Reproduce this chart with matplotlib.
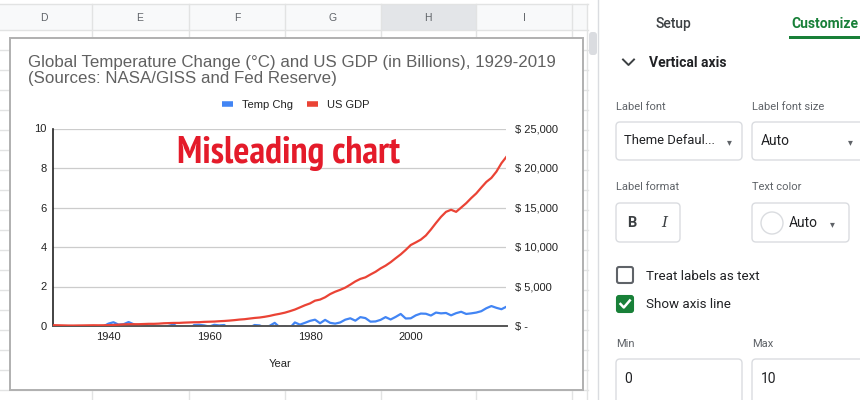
import matplotlib
matplotlib.use("Agg")
import matplotlib.pyplot as plt
from matplotlib import font_manager
from matplotlib.font_manager import FontProperties
from matplotlib.patches import Rectangle, FancyBboxPatch, Circle
from matplotlib.lines import Line2D
from matplotlib.ticker import FuncFormatter

# ---- data ----
years = list(range(1929, 2020))
temp_chg = [-0.36, -0.16, -0.09, -0.16, -0.29, -0.13, -0.20, -0.15, -0.03, -0.02,
            -0.02, 0.12, 0.19, 0.07, 0.09, 0.20, 0.09, -0.07, -0.03, -0.11,
            -0.11, -0.17, -0.07, 0.01, 0.08, -0.13, -0.14, -0.19, 0.05, 0.06,
            0.03, -0.03, 0.06, 0.03, 0.05, -0.20, -0.11, -0.06, -0.02, -0.08,
            0.05, 0.03, -0.08, 0.01, 0.16, -0.07, -0.01, -0.10, 0.18, 0.07,
            0.16, 0.26, 0.32, 0.14, 0.31, 0.16, 0.12, 0.18, 0.32, 0.39,
            0.27, 0.45, 0.40, 0.22, 0.23, 0.31, 0.45, 0.33, 0.46, 0.61,
            0.38, 0.39, 0.54, 0.63, 0.62, 0.53, 0.68, 0.64, 0.66, 0.54,
            0.65, 0.72, 0.61, 0.64, 0.68, 0.75, 0.90, 1.01, 0.92, 0.85,
            0.98]
us_gdp = [105, 92, 77, 60, 57, 67, 74, 85, 93, 87,
          93, 103, 129, 166, 203, 224, 228, 228, 250, 275,
          273, 300, 347, 367, 389, 391, 426, 449, 474, 481,
          522, 542, 562, 604, 638, 685, 742, 813, 860, 941,
          1018, 1073, 1165, 1279, 1425, 1545, 1685, 1873, 2082, 2352,
          2627, 2857, 3207, 3344, 3634, 4038, 4339, 4580, 4855, 5236,
          5642, 5963, 6158, 6520, 6859, 7287, 7640, 8073, 8578, 9063,
          9631, 10251, 10582, 10936, 11458, 12214, 13037, 13815, 14452, 14713,
          14449, 14992, 15543, 16197, 16785, 17527, 18238, 18745, 19543, 20612,
          21433]

series_names = ["Temp Chg", "US GDP"]
left_ticks = [0, 2, 4, 6, 8, 10]
right_ticks = [0, 5000, 10000, 15000, 20000, 25000]
year_ticks = [1940, 1960, 1980, 2000]
columns = ["D", "E", "F", "G", "H", "I"]

BLUE = "#4285f4"
RED = "#ea4335"
GREEN = "#188038"

plt.rcParams["font.family"] = ["Liberation Sans", "DejaVu Sans"]
ui = ["Roboto", "DejaVu Sans"]

# a narrow bold face for the red stamp, if one is installed (narrow first)
narrow = [f.fname for f in font_manager.fontManager.ttflist
          if ("Narrow" in f.fname or "Condensed" in f.fname)
          and f.weight in ("bold", 700) and f.style == "normal"]
narrow.sort(key=lambda p: (0 if "Narrow" in p else 1, p))
if narrow:
    stamp = FontProperties(fname=narrow[0], size=20)
else:
    stamp = FontProperties(family=["Liberation Sans"], weight="bold", size=20)

fig = plt.figure(figsize=(8.6, 4), dpi=100)

# background: spreadsheet + side panel, in pixel units
bg = fig.add_axes([0, 0, 1, 1])
bg.set_xlim(0, 860)
bg.set_ylim(400, 0)
bg.axis("off")

gridc = "#e2e3e3"
bg.add_patch(Rectangle((0, 4), 588, 26, facecolor="#f8f9fa", edgecolor="none", zorder=0.2))
bg.add_patch(Rectangle((381, 4), 95, 26, facecolor="#e3e5e8", edgecolor="none", zorder=0.2))
for y in range(30, 401, 20):
    bg.plot([0, 588], [y, y], color=gridc, lw=1, zorder=0.5)
bg.plot([0, 588], [4, 4], color=gridc, lw=1, zorder=0.5)
col_edges = [92, 188.5, 285, 381, 476, 572, 587]
for x in col_edges:
    bg.plot([x, x], [4, 400], color=gridc, lw=1, zorder=0.5)
col_centers = [44, 140, 237, 333, 428, 524]
for c, x in zip(columns, col_centers):
    bg.text(x, 18, c, ha="center", va="center", fontsize=7.5, color="#5f6368")

# chart card
bg.add_patch(Rectangle((9.5, 37.5), 573, 352.5, facecolor="white",
                       edgecolor="#b0b0b0", lw=1.4, zorder=1))

# scrollbar
bg.add_patch(FancyBboxPatch((589, 32), 8, 23, boxstyle="round,pad=0,rounding_size=3",
                            facecolor="#dadce0", edgecolor="none", zorder=1))

# side panel
bg.add_patch(Rectangle((598, 0), 262, 400, facecolor="white", edgecolor="none", zorder=1))
bg.plot([598, 598], [0, 400], color="#dadce0", lw=1, zorder=1.2)
bg.text(673, 24, "Setup", ha="center", va="center", fontsize=10, color="#3c4043",
        family=ui, weight="medium")
bg.text(825, 24, "Customize", ha="center", va="center", fontsize=10, color=GREEN,
        family=ui, weight="bold")
bg.add_patch(Rectangle((789, 36), 71, 3, facecolor=GREEN, edgecolor="none", zorder=2))
bg.plot([623, 628.5, 634], [59.5, 65, 59.5], color="#3c4043", lw=1.4, zorder=2)
bg.text(649, 63, "Vertical axis", ha="left", va="center", fontsize=10,
        color="#202124", family=ui, weight="bold")


def box(x, y, w, h):
    bg.add_patch(FancyBboxPatch((x, y), w, h, boxstyle="round,pad=0,rounding_size=4",
                                facecolor="white", edgecolor="#dadce0", lw=1, zorder=1.5))


def label(x, y, s):
    bg.text(x, y, s, ha="left", va="center", fontsize=8, color="#5f6368", family=ui)


def value(x, y, s, size=9.6):
    bg.text(x, y, s, ha="left", va="center", fontsize=size, color="#202124", family=ui)


def arrow(x, y):
    bg.text(x, y, "▾", ha="center", va="center", fontsize=7, color="#5f6368")


label(616, 107, "Label font")
label(752, 107, "Label font size")
box(616, 122, 126, 38)
box(752, 122, 130, 38)
value(624, 141, "Theme Defaul...", size=9.4)
value(761, 141, "Auto", size=10)
arrow(729, 142)
arrow(850, 142)

label(616, 187, "Label format")
label(752, 187, "Text color")
box(616, 203, 64, 39)
box(752, 203, 97, 39)
bg.text(632, 223, "B", ha="center", va="center", fontsize=10.5, weight="bold",
        color="#3c4043", family=ui)
bg.text(664, 223, "I", ha="center", va="center", fontsize=11, style="italic",
        color="#3c4043", family=["DejaVu Serif"])
bg.add_patch(Circle((772, 223), 11, facecolor="white", edgecolor="#dadce0", lw=1, zorder=2))
value(789, 223, "Auto", size=10)
arrow(832, 224)

bg.add_patch(FancyBboxPatch((617, 267), 16, 16, boxstyle="round,pad=0,rounding_size=2",
                            facecolor="white", edgecolor="#5f6368", lw=1.5, zorder=1.5))
value(646, 276, "Treat labels as text")
bg.add_patch(FancyBboxPatch((617, 296), 16, 16, boxstyle="round,pad=0,rounding_size=2",
                            facecolor=GREEN, edgecolor=GREEN, lw=1.5, zorder=1.5))
bg.plot([620.5, 623.8, 629.8], [304, 307.5, 300.5], color="white", lw=1.8, zorder=2.5)
value(646, 304, "Show axis line")

label(616, 344, "Min")
label(752, 344, "Max")
box(616, 359, 126, 50)
box(752, 359, 130, 50)
value(624, 379, "0", size=10)
value(761, 379, "10", size=10)

# chart title
bg.text(28, 62, "Global Temperature Change (°C) and US GDP (in Billions), 1929-2019",
        ha="left", va="center", fontsize=12.2, color="#616161")
bg.text(28, 78, "(Sources: NASA/GISS and Fed Reserve)",
        ha="left", va="center", fontsize=12.2, color="#616161")

# plot area
L, R, T, B = 53, 506.5, 128.5, 326
ax = fig.add_axes([L / 860, (400 - B) / 400, (R - L) / 860, (B - T) / 400])
ax.set_zorder(1)
ax.patch.set_visible(False)
ax.plot(years, temp_chg, color=BLUE, lw=1.6)
ax.set_xlim(1929, 2019)
ax.set_ylim(0, 10)
ax.set_yticks(left_ticks)
ax.set_xticks(year_ticks)
ax.grid(axis="y", color="#cccccc", lw=0.9)
ax.set_axisbelow(True)
for s in ["top", "right"]:
    ax.spines[s].set_visible(False)
ax.spines["left"].set_color("#222222")
ax.spines["left"].set_linewidth(1.2)
ax.spines["bottom"].set_color("#555555")
ax.spines["bottom"].set_linewidth(1.4)
ax.tick_params(axis="y", length=0, labelsize=8, pad=4.5, labelcolor="#222222")
ax.tick_params(axis="x", length=0, labelsize=8, pad=4.5, labelcolor="#222222")
ax.set_xlabel("Year", fontsize=8, color="#222222", labelpad=12)

ax2 = ax.twinx()
ax2.plot(years, us_gdp, color=RED, lw=1.6)
ax2.set_ylim(0, 25000)
ax2.set_yticks(right_ticks)
ax2.yaxis.set_major_formatter(FuncFormatter(
    lambda v, p: "$ -" if v == 0 else "$ {:,.0f}".format(v)))
for s in ax2.spines.values():
    s.set_visible(False)
ax2.tick_params(axis="y", length=0, labelsize=8, pad=6, labelcolor="#222222")

handles = [Line2D([], [], color=BLUE, lw=4, solid_capstyle="butt"),
           Line2D([], [], color=RED, lw=4, solid_capstyle="butt")]
ax2.legend(handles, series_names, loc="center", ncol=2, frameon=False,
           bbox_to_anchor=((295.5 - L) / (R - L), (B - 105) / (B - T)),
           fontsize=8, handlelength=1.0, handletextpad=0.8, columnspacing=1.3,
           labelcolor="#222222")

stamp_text = fig.text(177, 163, "Misleading chart", transform=bg.transData, ha="left",
                      va="baseline", fontproperties=stamp, color="#e41b2a", zorder=10)
# fit the stamp to the width it has in the picture (about 223 px)
fig.canvas.draw()
w = stamp_text.get_window_extent().width
stamp_text.set_fontsize(stamp.get_size() * 223 / w)

fig.savefig("out.png", dpi=100)
